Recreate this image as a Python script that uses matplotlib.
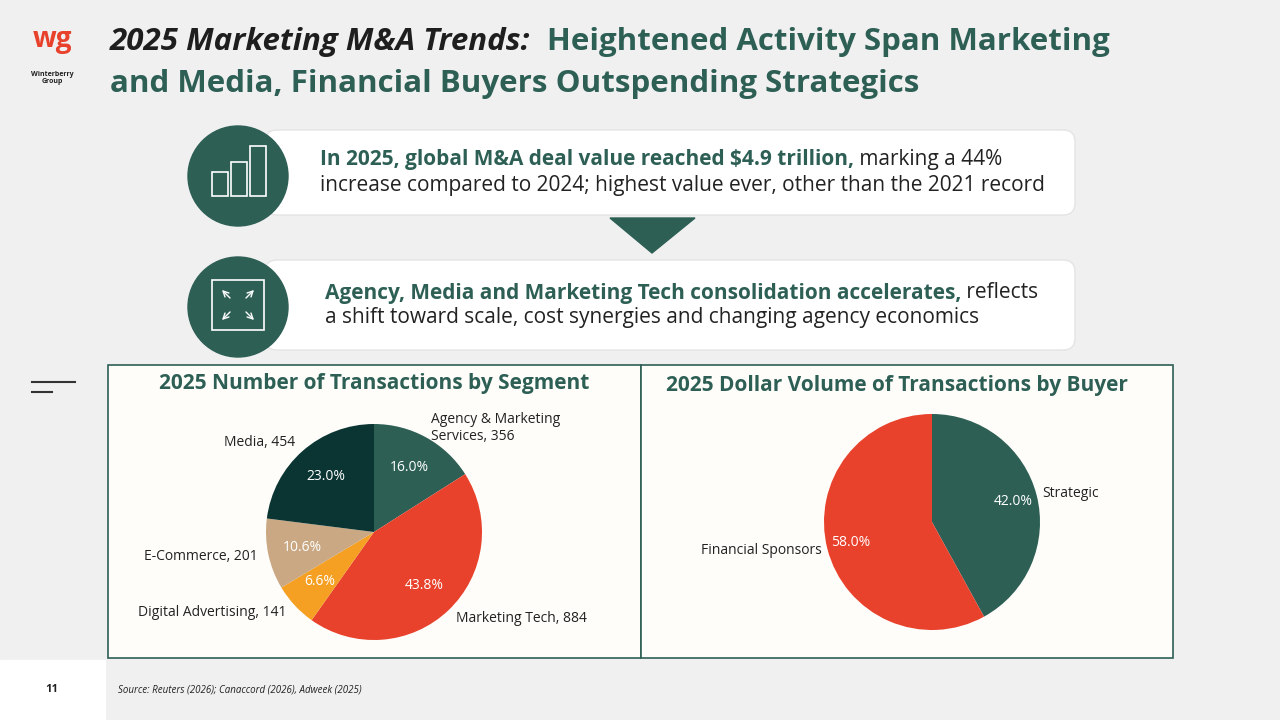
import matplotlib
matplotlib.use("Agg")
import matplotlib.pyplot as plt
from matplotlib.patches import FancyBboxPatch, Circle, Polygon, Rectangle

plt.rcParams["font.family"] = ["Open Sans", "DejaVu Sans"]

GREEN = "#2d5f55"
RED = "#e8412c"
DARK = "#0a3533"

seg_labels = ["Agency & Marketing\nServices", "Marketing Tech", "Digital Advertising", "E-Commerce", "Media"]
seg_counts = [356, 884, 141, 201, 454]
seg_pct = [16.0, 43.8, 6.6, 10.6, 23.0]
seg_colors = [GREEN, RED, "#f5a023", "#c9a883", DARK]

buyer_labels = ["Strategic", "Financial Sponsors"]
buyer_pct = [42.0, 58.0]
buyer_colors = [GREEN, RED]

fig = plt.figure(figsize=(12.8, 7.2), dpi=100)
fig.patch.set_facecolor("#f0f0f0")
bg = fig.add_axes([0, 0, 1, 1])
bg.set_xlim(0, 1280)
bg.set_ylim(720, 0)
bg.axis("off")
renderer = fig.canvas.get_renderer()


def run_text(x, y, parts, size):
    # write bold/normal pieces one after the other on one line
    for txt, weight, color, style in parts:
        t = bg.text(x, y, txt, ha="left", va="center", fontsize=size, fontweight=weight,
                    color=color, style=style, zorder=5)
        bb = t.get_window_extent(renderer)
        x += bb.width


# footer
bg.add_patch(Rectangle((0, 660), 105, 60, color="white", zorder=1))
bg.text(52, 690, "11", ha="center", va="center", fontsize=8, fontweight="bold", color="#222")
bg.text(118, 690, "Source: Reuters (2026); Canaccord (2026), Adweek (2025)",
        ha="left", va="center", fontsize=7, style="italic", color="#222")

# logo
bg.text(52, 40, "wg", ha="center", va="center", fontsize=20, fontweight="bold", color=RED)
bg.text(52, 78, "Winterberry\nGroup", ha="center", va="center", fontsize=5, fontweight="bold",
        color="#222", linespacing=1.0)

# title
run_text(110, 42, [("2025 Marketing M&A Trends:  ", "bold", "#1e1e1e", "italic"),
                   ("Heightened Activity Span Marketing", "bold", GREEN, "normal")], 22.5)
bg.text(110, 84, "and Media, Financial Buyers Outspending Strategics", ha="left", va="center",
        fontsize=22.5, fontweight="bold", color=GREEN)

# callouts
for y0, y1, cy in [(130, 215, 176), (260, 350, 307)]:
    bg.add_patch(FancyBboxPatch((265, y0), 810, y1 - y0, boxstyle="round,pad=0,rounding_size=12",
                                facecolor="white", edgecolor="#e4e4e4", zorder=2))
    bg.add_patch(Circle((238, cy), 50, color=GREEN, zorder=3))

bg.add_patch(Polygon([(610, 218), (695, 218), (652, 253)], color=GREEN, zorder=2))

# building icon
for bx, by, bw, bh in [(212, 172, 16, 24), (231, 162, 16, 34), (250, 146, 16, 50)]:
    bg.add_patch(Rectangle((bx, by), bw, bh, fill=False, edgecolor="white", lw=1.2, zorder=4))
# expand icon
bg.add_patch(Rectangle((212, 280), 52, 50, fill=False, edgecolor="white", lw=1.2, zorder=4))
for (x0, y0, dx, dy) in [(232, 300, -12, -12), (244, 300, 12, -12), (232, 310, -12, 12), (244, 310, 12, 12)]:
    bg.annotate("", xy=(x0 + dx, y0 + dy), xytext=(x0, y0),
                arrowprops=dict(arrowstyle="->", color="white", lw=1), zorder=5)

run_text(320, 160, [("In 2025, global M&A deal value reached $4.9 trillion,", "bold", GREEN, "normal"),
                    (" marking a 44%", "normal", "#222", "normal")], 15)
bg.text(320, 185, "increase compared to 2024; highest value ever, other than the 2021 record",
        ha="left", va="center", fontsize=15, color="#222", zorder=5)
run_text(325, 293, [("Agency, Media and Marketing Tech consolidation accelerates,", "bold", GREEN, "normal"),
                    (" reflects", "normal", "#222", "normal")], 15)
bg.text(325, 318, "a shift toward scale, cost synergies and changing agency economics",
        ha="left", va="center", fontsize=15, color="#222", zorder=5)

# side marks
bg.plot([32, 75], [382, 382], color="#333", lw=1.5)
bg.plot([32, 52], [392, 392], color="#333", lw=1.5)

# panels
for x0, x1 in [(108, 641), (641, 1173)]:
    bg.add_patch(Rectangle((x0, 365), x1 - x0, 293, facecolor="#fffdfa", edgecolor=GREEN, lw=1.2, zorder=1))
bg.text(374, 383, "2025 Number of Transactions by Segment", ha="center", va="center",
        fontsize=15, fontweight="bold", color=GREEN)
bg.text(897, 386, "2025 Dollar Volume of Transactions by Buyer", ha="center", va="center",
        fontsize=15, fontweight="bold", color=GREEN)


def pix_axes(cx, cy, r):
    ax = fig.add_axes([(cx - r) / 1280, 1 - (cy + r) / 720, 2 * r / 1280, 2 * r / 720])
    return ax


ax1 = pix_axes(374, 532, 108)
ax1.pie(seg_pct, labels=[f"{l}, {c}" for l, c in zip(seg_labels, seg_counts)],
        colors=seg_colors, startangle=90, counterclock=False, autopct="%.1f%%",
        pctdistance=0.68, labeldistance=1.1,
        textprops=dict(fontsize=10, color="#222"))
ax1.set_xlim(-1, 1)
ax1.set_ylim(-1, 1)

ax2 = pix_axes(932, 522, 108)
ax2.pie(buyer_pct, labels=buyer_labels, colors=buyer_colors, startangle=90, counterclock=False,
        autopct="%.1f%%", pctdistance=0.78, labeldistance=1.05,
        textprops=dict(fontsize=10, color="#222"))
ax2.set_xlim(-1, 1)
ax2.set_ylim(-1, 1)

for ax in (ax1, ax2):
    for t in ax.texts:
        if t.get_text().endswith("%"):
            t.set_color("white")

fig.savefig("out.png", dpi=100, facecolor=fig.get_facecolor())
